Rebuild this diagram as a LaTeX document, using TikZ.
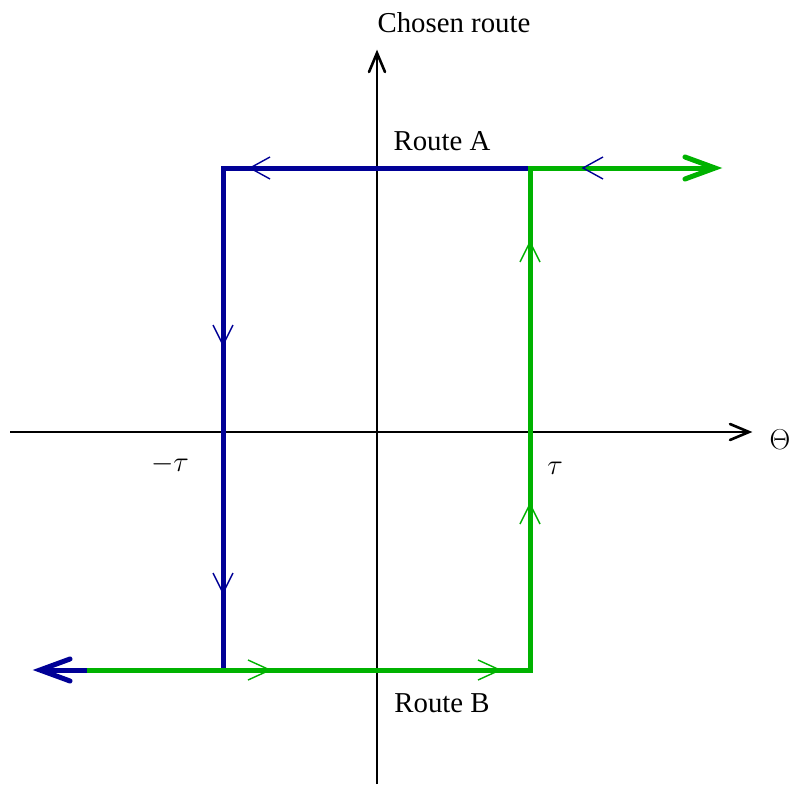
\RequirePackage{fix-cm}
\documentclass[tikz,border=0pt]{standalone}
\usepackage{fontspec}
\setmainfont{Liberation Serif}
\definecolor{routeblue}{RGB}{0,0,150}
\definecolor{routegreen}{RGB}{0,178,0}
\begin{document}
\begin{tikzpicture}[x=1pt,y=-1pt,
  axisline/.style={black,line width=1.6pt},
  axishead/.style={black,line width=2.6pt,line cap=round,line join=miter},
  bluepath/.style={routeblue,line width=5pt},
  greenpath/.style={routegreen,line width=5pt},
  bluemark/.style={routeblue,line width=1.4pt},
  greenmark/.style={routegreen,line width=1.4pt},
  bighead/.style={line width=5pt,line cap=round,line join=miter},
  lbl/.style={font=\fontsize{28.8}{34}\selectfont,inner sep=0pt}]
\useasboundingbox (0,0) rectangle (792,784);
% coordinates
\coordinate (TL) at (223,168);
\coordinate (TR) at (530,168);
\coordinate (BL) at (223,670);
\coordinate (BR) at (530,670);
\coordinate (Aend) at (713,168);
\coordinate (Bend) at (41,670);
\coordinate (Bmid) at (87,670);
\coordinate (Xs) at (10,432);
\coordinate (Xe) at (749,432);
\coordinate (Ys) at (377,784);
\coordinate (Ye) at (377,53);
% axes
\draw[axisline] (Xs) -- (Xe);
\draw[axisline] (Ys) -- (Ye);
\draw[axishead] (730,424) -- (Xe) -- (730,440);
\draw[axishead] (369,72) -- (Ye) -- (385,72);
% Route A (blue)
\draw[bluepath] (TR) -- (TL) -- (BL);
% Route B (green)
\draw[greenpath] (Bmid) -- (BR) -- (TR) -- (Aend);
\draw[bluepath] (Bmid) -- (Bend);
% big end arrowheads
\draw[bighead,routegreen] (685,157) -- (715,168) -- (685,179);
\draw[bighead,routeblue] (70,659) -- (40,670) -- (70,681);
% direction marks
\draw[bluemark] (270,157) -- (250,168) -- (270,179);
\draw[bluemark] (603,157) -- (583,168) -- (603,179);
\draw[bluemark] (213,325) -- (223,345) -- (233,325);
\draw[bluemark] (213,573) -- (223,593) -- (233,573);
\draw[greenmark] (248,660) -- (270,670) -- (248,680);
\draw[greenmark] (478,660) -- (500,670) -- (478,680);
\draw[greenmark] (520,262) -- (530,242) -- (540,262);
\draw[greenmark] (520,524) -- (530,504) -- (540,524);
% labels
\node[lbl] (ylab) at (454,23) {Chosen route};
\node[lbl] (xlab) at (780,440) {$\Theta$};
\node[lbl] (ra) at (442,141) {Route A};
\node[lbl] (rb) at (442,703) {Route B};
\node[lbl] (mt) at (170,464) {$-\tau$};
\node[lbl] (pt) at (555,468) {$\tau$};
\end{tikzpicture}
\end{document}
